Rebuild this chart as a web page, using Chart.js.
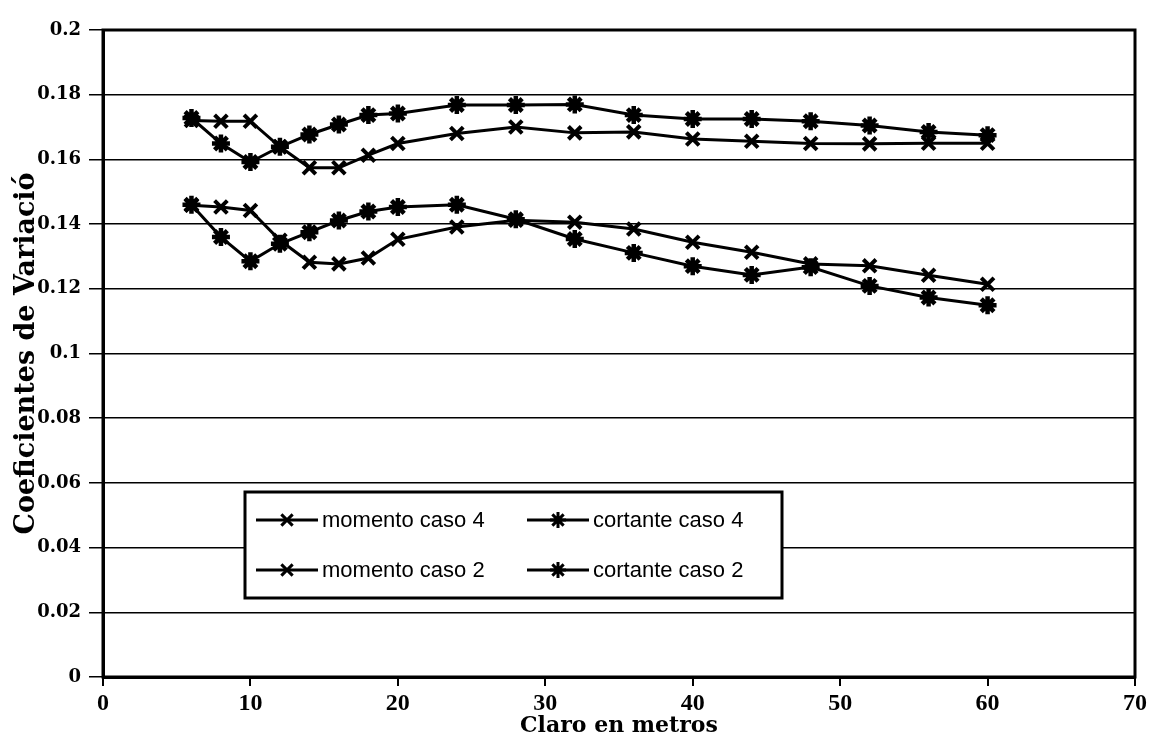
<!DOCTYPE html>
<html>
<head>
<meta charset="utf-8">
<script src="https://cdn.jsdelivr.net/npm/chart.js@4"></script>
<style>
  html, body { margin: 0; padding: 0; background: #fff; }
  #wrap { width: 1152px; height: 740px; }
</style>
</head>
<body>
<div id="wrap"><canvas id="chart"></canvas></div>
<script>
// claro (m) and coeficientes de variacion
const claro = [6, 8, 10, 12, 14, 16, 18, 20, 24, 28, 32, 36, 40, 44, 48, 52, 56, 60];
const momentoCaso4 = [0.172, 0.1718, 0.1718, 0.1639, 0.1574, 0.1574, 0.1613, 0.1649, 0.168, 0.170, 0.1682, 0.1685, 0.1663, 0.1656, 0.1649, 0.1648, 0.165, 0.165];
const cortanteCaso4 = [0.1728, 0.1649, 0.1592, 0.1639, 0.1677, 0.1708, 0.1737, 0.1742, 0.1768, 0.1768, 0.177, 0.1737, 0.1725, 0.1725, 0.1718, 0.1705, 0.1685, 0.1675];
const momentoCaso2 = [0.1458, 0.1453, 0.1442, 0.135, 0.1282, 0.1277, 0.1295, 0.1353, 0.1391, 0.1412, 0.1406, 0.1385, 0.1344, 0.1313, 0.1277, 0.1271, 0.1242, 0.1214];
const cortanteCaso2 = [0.146, 0.136, 0.1285, 0.1339, 0.1375, 0.1411, 0.1439, 0.1453, 0.146, 0.1415, 0.1354, 0.1311, 0.127, 0.1243, 0.1267, 0.1209, 0.1173, 0.1149];
const seriesNames = ['momento caso 4', 'cortante caso 4', 'momento caso 2', 'cortante caso 2'];

const toPoints = (vals) => vals.map((v, i) => ({ x: claro[i], y: v }));

function makeSet(label, vals, style) {
    return {
        label: label,
        data: toPoints(vals),
        borderColor: '#000',
        backgroundColor: '#000',
        borderWidth: 3,
        pointStyle: style,
        pointRadius: 9,
        pointBorderWidth: style === 'star' ? 4.5 : 4,
        pointBorderColor: '#000',
        tension: 0,
    };
}

// legend box drawn inside the plot, like the original
const boxLegend = {
    id: 'boxLegend',
    afterDraw(chart) {
        const ctx = chart.ctx;
        const a = chart.chartArea;
        ctx.save();
        // frame round the plot area
        ctx.strokeStyle = '#000';
        ctx.lineWidth = 3;
        ctx.strokeRect(a.left, a.top, a.right - a.left, a.bottom - a.top);

        const bx = 245, by = 492, bw = 537, bh = 106;
        ctx.fillStyle = '#fff';
        ctx.fillRect(bx, by, bw, bh);
        ctx.lineWidth = 3;
        ctx.strokeRect(bx, by, bw, bh);

        const cols = [256, 527];
        const rows = [520, 570];
        ctx.font = '22px "Liberation Sans", Arial, sans-serif';
        ctx.textBaseline = 'middle';
        chart.data.datasets.forEach((ds, i) => {
            const x0 = cols[i % 2];
            const y0 = rows[Math.floor(i / 2)];
            ctx.strokeStyle = '#000';
            ctx.lineWidth = 3;
            ctx.beginPath();
            ctx.moveTo(x0, y0);
            ctx.lineTo(x0 + 62, y0);
            ctx.stroke();
            Chart.helpers.drawPoint(ctx, {
                pointStyle: ds.pointStyle,
                radius: 8,
                borderWidth: ds.pointBorderWidth,
                rotation: 0,
            }, x0 + 31, y0);
            ctx.fillStyle = '#000';
            ctx.fillText(ds.label, x0 + 66, y0 + 1);
        });
        ctx.restore();
    }
};

new Chart(document.getElementById('chart').getContext('2d'), {
    type: 'line',
    data: {
        datasets: [
            makeSet(seriesNames[0], momentoCaso4, 'crossRot'),
            makeSet(seriesNames[1], cortanteCaso4, 'star'),
            makeSet(seriesNames[2], momentoCaso2, 'crossRot'),
            makeSet(seriesNames[3], cortanteCaso2, 'star'),
        ],
    },
    options: {
        responsive: true,
        maintainAspectRatio: false,
        animation: false,
        layout: { padding: { top: 30, right: 17, left: 0, bottom: 0 } },
        plugins: {
            legend: { display: false },
            tooltip: { enabled: false },
        },
        scales: {
            x: {
                type: 'linear',
                min: 0,
                max: 70,
                afterFit: (s) => { s.height = 63; },
                ticks: {
                    stepSize: 10,
                    color: '#000',
                    padding: 3,
                    font: { family: '"Liberation Serif", "Times New Roman", serif', weight: 'bold', size: 24 },
                },
                grid: {
                    drawOnChartArea: false,
                    drawTicks: true,
                    tickLength: 9,
                    color: '#000',
                    lineWidth: 2,
                },
                border: { display: true, color: '#000', width: 3 },
                title: {
                    display: true,
                    text: 'Claro en metros',
                    color: '#000',
                    padding: { top: 0, bottom: 1 },
                    font: { family: '"DejaVu Serif", serif', weight: 'bold', size: 22 },
                },
            },
            y: {
                min: 0,
                max: 0.2,
                afterFit: (s) => { s.width = 103; },
                ticks: {
                    stepSize: 0.02,
                    color: '#000',
                    padding: 8,
                    font: { family: '"DejaVu Serif", serif', weight: 'bold', size: 18 },
                    callback: (value) => String(Number(value.toFixed(2))),
                },
                grid: {
                    drawTicks: true,
                    tickLength: 14,
                    color: '#000',
                    lineWidth: 1.5,
                },
                border: { display: true, color: '#000', width: 3 },
                title: {
                    display: true,
                    text: 'Coeficientes de Variació',
                    color: '#000',
                    padding: { top: 11, bottom: 0 },
                    font: { family: '"DejaVu Serif", serif', weight: 'bold', size: 27 },
                },
            },
        },
    },
    plugins: [boxLegend],
});
</script>
</body>
</html>
